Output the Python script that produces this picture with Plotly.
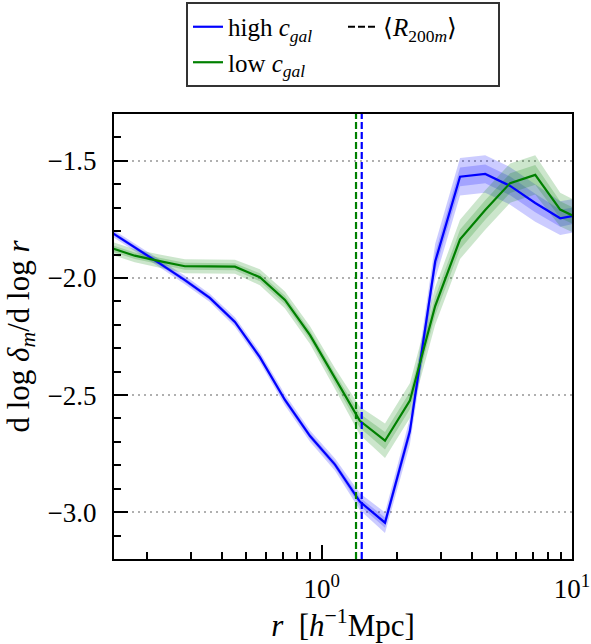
import plotly.graph_objects as go

# bin centres r [h^-1 Mpc]
r = [0.142, 0.179, 0.225, 0.284, 0.357, 0.450, 0.566, 0.713, 0.898, 1.13,
     1.42, 1.79, 2.25, 2.84, 3.57, 4.50, 5.66, 7.13, 8.97, 11.3]

# logarithmic slope, high-concentration galaxies
high = [-1.800, -1.868, -1.938, -2.009, -2.085, -2.188, -2.338, -2.521, -2.675, -2.797,
        -2.955, -3.045, -2.655, -1.930, -1.568, -1.556, -1.607, -1.680, -1.745, -1.725]
high_err = [0.008, 0.008, 0.008, 0.009, 0.009, 0.010, 0.011, 0.012, 0.012, 0.013,
            0.018, 0.022, 0.028, 0.038, 0.040, 0.040, 0.040, 0.040, 0.036, 0.035]

# logarithmic slope, low-concentration galaxies
low = [-1.870, -1.905, -1.928, -1.950, -1.951, -1.952, -1.997, -2.094, -2.244, -2.430,
       -2.610, -2.695, -2.524, -2.120, -1.835, -1.710, -1.595, -1.560, -1.708, -1.760]
low_err = [0.014, 0.014, 0.014, 0.015, 0.015, 0.015, 0.017, 0.018, 0.019, 0.022,
           0.030, 0.037, 0.037, 0.040, 0.042, 0.042, 0.042, 0.042, 0.036, 0.035]

# mean R200m of each sample
r200_high = 1.445
r200_low = 1.371

x_ticks = [1, 10]
x_ticktext = ["10<sup>0</sup>", "10<sup>1</sup>"]
x_minor = [0.2, 0.3, 0.4, 0.5, 0.6, 0.7, 0.8, 0.9, 2, 3, 4, 5, 6, 7, 8, 9]
y_ticks = [-3.0, -2.5, -2.0, -1.5]
y_ticktext = ["\u22123.0", "\u22122.5", "\u22122.0", "\u22121.5"]

FONT = "Liberation Serif"
BLUE = "#0000ff"
GREEN = "#008000"

fig = go.Figure()


def band(y, err, k, rgba):
    upper = [v + k * e for v, e in zip(y, err)]
    lower = [v - k * e for v, e in zip(y, err)]
    fig.add_trace(go.Scatter(
        x=r + r[::-1], y=upper + lower[::-1], fill="toself",
        fillcolor=rgba, line=dict(width=0), mode="lines",
        hoverinfo="skip", showlegend=False))


band(high, high_err, 2, "rgba(0,0,255,0.2)")
band(high, high_err, 1, "rgba(0,0,255,0.2)")
band(low, low_err, 2, "rgba(0,128,0,0.2)")
band(low, low_err, 1, "rgba(0,128,0,0.2)")

fig.add_trace(go.Scatter(x=r, y=high, mode="lines", line=dict(color=BLUE, width=2.2),
                         name="high <i>c</i><sub><i>gal</i></sub>"))
fig.add_trace(go.Scatter(x=[None], y=[None], mode="lines",
                         line=dict(color="black", width=2.2, dash="7px,3px"),
                         name="\u27e8<i>R</i><sub>200<i>m</i></sub>\u27e9"))
fig.add_trace(go.Scatter(x=r, y=low, mode="lines", line=dict(color=GREEN, width=2.2),
                         name="low <i>c</i><sub><i>gal</i></sub>"))

fig.add_vline(x=r200_low, line=dict(color=GREEN, width=2.2, dash="7px,3px"))
fig.add_vline(x=r200_high, line=dict(color=BLUE, width=2.2, dash="7px,3px"))

fig.update_xaxes(
    type="log", range=[-0.83, 1.0],
    tickmode="array", tickvals=x_ticks, ticktext=x_ticktext,
    ticks="inside", ticklen=14, tickwidth=2, tickcolor="black",
    showline=True, linecolor="black", linewidth=2, mirror=True,
    showgrid=False, zeroline=False,
    ticklabelstandoff=5,
    tickfont=dict(family=FONT, size=27, color="black"),
    minor=dict(tickmode="array", tickvals=x_minor, ticks="inside", ticklen=7,
               tickwidth=1.5, tickcolor="black", showgrid=False),
    title=dict(text="<i>r</i>\u00a0\u00a0[<i>h</i><sup>\u22121</sup>Mpc]",
               font=dict(family=FONT, size=31, color="black"), standoff=1),
)
fig.update_yaxes(
    range=[-3.2, -1.3],
    tickmode="array", tickvals=y_ticks, ticktext=y_ticktext,
    ticks="inside", ticklen=14, tickwidth=2, tickcolor="black",
    showline=True, linecolor="black", linewidth=2, mirror=True,
    showgrid=True, gridcolor="#b0b0b0", gridwidth=1.5, griddash="2px,4px",
    zeroline=False,
    ticklabelstandoff=10,
    tickfont=dict(family=FONT, size=27, color="black"),
    minor=dict(dtick=0.1, tick0=-3.2, ticks="inside", ticklen=7, tickwidth=1.5,
               tickcolor="black", showgrid=False),
    title=dict(text="d\u00a0log\u00a0<i>\u03b4</i><sub><i>m</i></sub>/d\u00a0log\u00a0<i>r</i>",
               font=dict(family=FONT, size=31, color="black"), standoff=9),
)

fig.update_layout(
    width=591, height=644,
    margin=dict(l=114, r=19, t=114, b=85, autoexpand=False),
    paper_bgcolor="white", plot_bgcolor="white",
    font=dict(family=FONT, color="black"),
    showlegend=True,
    legend=dict(orientation="h", x=0.5, xanchor="center", y=1.2517, yanchor="top",
                bgcolor="white", bordercolor="#333333", borderwidth=2,
                font=dict(family=FONT, size=25, color="black"),
                entrywidth=110, entrywidthmode="pixels", traceorder="normal"),
)

fig.write_html("out.html")
